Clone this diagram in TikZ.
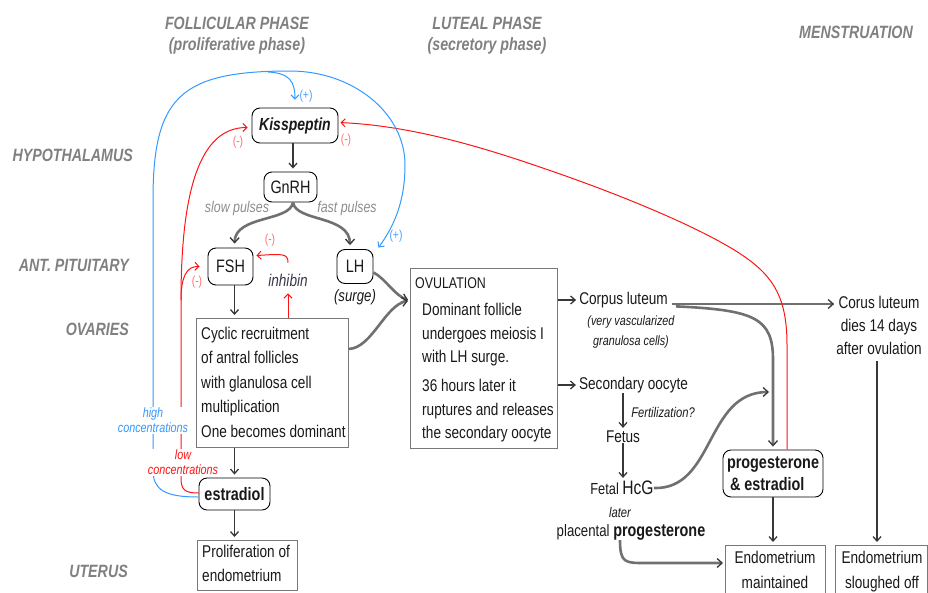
\documentclass[tikz,border=0pt]{standalone}
\usepackage{fontspec}
\setmainfont[FakeStretch=0.8]{Liberation Sans}
\usetikzlibrary{arrows.meta}
\definecolor{hgray}{RGB}{128,128,128}
\definecolor{agray}{RGB}{112,112,112}
\definecolor{dgray}{RGB}{55,55,55}
\definecolor{bgray}{RGB}{120,120,120}
\definecolor{fblue}{RGB}{51,153,255}
\definecolor{fred}{RGB}{255,20,20}
\definecolor{lred}{RGB}{255,110,110}
\definecolor{lblue}{RGB}{70,160,255}
\definecolor{pgray}{RGB}{140,140,140}
\definecolor{itxt}{RGB}{55,55,75}
\begin{document}
\begin{tikzpicture}[x=1pt,y=-1pt,
  every node/.style={inner sep=0pt, text=black!90},
  head/.style={text=hgray, font=\fontsize{17.8}{20}\selectfont\bfseries\itshape},
  body/.style={font=\fontsize{17}{24}\selectfont},
  hbody/.style={font=\fontsize{18}{24}\selectfont},
  rbox/.style={draw=black, line width=0.9pt, rounded corners=8pt},
  sbox/.style={draw=bgray, line width=0.9pt},
  small/.style={font=\fontsize{14}{16}\selectfont\itshape},
  sign/.style={font=\fontsize{13}{14}\selectfont},
  darr/.style={draw=dgray, line width=1.4pt, -{Straight Barb[length=4.5pt,width=8pt,line width=1.3pt]}, shorten >=3pt},
  garr/.style={draw=agray, line width=2.6pt, -{Straight Barb[length=5pt,width=9pt,line width=1.3pt,color=dgray]}, shorten >=2pt},
  rarr/.style={draw=fred, line width=1pt, -{Straight Barb[length=4pt,width=8pt]}},
  barr/.style={draw=fblue, line width=1pt, -{Straight Barb[length=4pt,width=8pt]}},
  rline/.style={draw=fred, line width=1pt},
  bline/.style={draw=fblue, line width=1pt},
  conc/.style={font=\fontsize{13.5}{15}\selectfont\itshape, align=center, fill=white, inner sep=1pt}
]
\useasboundingbox (0,0) rectangle (928,592);

% headings
\node[head] (h1) at (237,23) {FOLLICULAR PHASE};
\node[head] (h2) at (237,46) {(proliferative phase)};
\node[head] (h3) at (487,23) {LUTEAL PHASE};
\node[head] (h4) at (487,46) {(secretory phase)};
\node[head] (h5) at (856,32) {MENSTRUATION};
\node[head,anchor=east] (l1) at (133,155) {HYPOTHALAMUS};
\node[head,anchor=east] (l2) at (129,265) {ANT. PITUITARY};
\node[head,anchor=east] (l3) at (129,329) {OVARIES};
\node[head,anchor=east] (l4) at (128,571) {UTERUS};

% hormone nodes
\node[rbox, minimum width=86, minimum height=35, font=\fontsize{17.5}{20}\selectfont\bfseries\itshape] (kiss) at (295,125.5) {Kisspeptin};
\node[rbox, minimum width=53, minimum height=30, hbody] (gnrh) at (290.5,187) {GnRH};
\node[rbox, minimum width=45, minimum height=37, hbody] (fsh) at (230.5,266.5) {FSH};
\node[rbox, minimum width=36, minimum height=34, hbody] (lh) at (355,266.5) {LH};
\node[font=\fontsize{16.5}{20}\selectfont\itshape] (surge) at (355,297) {(surge)};
\node[font=\fontsize{15.5}{18}\selectfont\itshape, text=pgray] (slow) at (237,208) {slow pulses};
\node[font=\fontsize{15.5}{18}\selectfont\itshape, text=pgray] (fast) at (347,208) {fast pulses};
\node[font=\fontsize{17}{20}\selectfont\itshape, text=itxt] (inh) at (288,280) {inhibin};

% cyclic box
\node[sbox, anchor=north west, minimum width=152, minimum height=129] (cycbox) at (196,318) {};
\node[anchor=north west, align=left, font=\fontsize{17}{24.5}\selectfont] (cyctxt) at (201,326.5) {Cyclic recruitment\\of antral follicles\\with glanulosa cell\\multiplication\\One becomes dominant};

% estradiol and proliferation
\node[rbox, minimum width=71, minimum height=32, font=\fontsize{18}{20}\selectfont\bfseries] (estr) at (234.5,494) {estradiol};
\node[sbox, anchor=north west, minimum width=100, minimum height=50] (prolbox) at (197,540) {};
\node[anchor=north west, align=left, font=\fontsize{17}{24}\selectfont] (proltxt) at (202,544.5) {Proliferation of\\endometrium};

% ovulation
\node[sbox, anchor=north west, minimum width=147, minimum height=180] (ovbox) at (410,268) {};
\node[anchor=north west, align=left, font=\fontsize{17}{23.5}\selectfont] (ovtxt) at (415,277.5) {{\fontsize{15.5}{18}\selectfont OVULATION}\\[3.5pt]\hspace*{7pt}Dominant follicle\\\hspace*{7pt}undergoes meiosis I\\\hspace*{7pt}with LH surge.\\[5.5pt]\hspace*{7pt}36 hours later it\\\hspace*{7pt}ruptures and releases\\\hspace*{7pt}the secondary oocyte};

% luteal column
\node[body] (cl) at (623.5,300) {Corpus luteum};
\node[font=\fontsize{13.5}{20}\selectfont\itshape, align=center] (clsub) at (631,332) {(very vascularized\\granulosa cells)};
\node[body] (so) at (633.5,385) {Secondary oocyte};
\node[small] (fert) at (663,412) {Fertilization?};
\node[body] (fetus) at (623,437) {Fetus};
\node (hcg) at (622,488) {\fontsize{16}{19}\selectfont Fetal \fontsize{19.5}{22}\selectfont HcG};
\node[small] (later) at (620,512) {later};
\node (plac) at (631,532) {\fontsize{16.5}{20}\selectfont placental \bfseries\fontsize{18}{20}\selectfont progesterone};
\node[align=center, anchor=north, font=\fontsize{17}{23}\selectfont] (dies) at (879,295.5) {Corus luteum\\dies 14 days\\after ovulation};
\node[rbox, minimum width=100, minimum height=47, align=left, font=\fontsize{18}{22}\selectfont\bfseries] (pe) at (773,473.5) {progesterone\\\hspace*{3pt}\& estradiol};
\node[sbox, anchor=north west, minimum width=100, minimum height=60] (embox) at (725,545) {};
\node[align=center, font=\fontsize{17}{25}\selectfont, anchor=north] (emtxt) at (775,550.5) {Endometrium\\maintained};
\node[sbox, anchor=north west, minimum width=92, minimum height=60] (slbox) at (835,545) {};
\node[align=center, font=\fontsize{17}{25}\selectfont, anchor=north] (sltxt) at (882,550.5) {Endometrium\\sloughed off};

% coordinates
\coordinate (ovin) at ([yshift=58]ovbox.west);
\coordinate (pj) at (771,392);
\coordinate (bj) at (268,72);
\coordinate (rj) at (181,300);

% black / gray arrows
\draw[darr] ([xshift=-2]kiss.south) -- ([xshift=2.5]gnrh.north);
\draw[garr, shorten >=4pt] ([xshift=2.5]gnrh.south) .. controls (290,222) and (235,215) .. ([xshift=4]fsh.north);
\draw[garr, shorten >=4pt] ([xshift=2.5]gnrh.south) .. controls (296,222) and (350,215) .. ([xshift=-5]lh.north);
\draw[darr] ([xshift=4]fsh.south) -- ([xshift=4]fsh.south |- cycbox.north);
\draw[darr] (cycbox.south -| estr) -- (estr.north);
\draw[darr] (estr.south) -- (estr.south |- prolbox.north);
\draw[garr] ([yshift=-6]lh.east) .. controls (385,278) and (395,296) .. (ovin);
\draw[garr] ([yshift=34]cycbox.east) .. controls (372,348) and (385,305) .. (ovin);
\draw[darr] (ovbox.east |- cl) -- (cl.west);
\draw[darr] (ovbox.east |- so) -- (so.west);
\draw[darr] (so.south -| fetus) -- (fetus.north);
\draw[darr] (fetus.south) -- (fetus.south |- hcg.north);
\draw[garr] (hcg.east) .. controls (715,490) and (705,392) .. (pj);
\draw[garr] ([xshift=-11]plac.south) .. controls (620,563) and (625,563) .. (645,563) -- (embox.west |- 0,563);
\draw[garr, shorten <=4pt] ([yshift=-4]cl.east) -- ([yshift=-4]cl.east -| dies.west);
\draw[garr, shorten >=3pt, shorten <=8pt] ([yshift=-6]cl.east) .. controls (755,310) and (773,318) .. (773,360) -- (pe.north);
\draw[darr] (pe.south) -- (pe.south |- embox.north);
\draw[darr, shorten <=7pt] ([xshift=-2]dies.south) -- ([xshift=-2]dies.south |- slbox.north);

% red feedback
\draw[rarr, shorten >=2pt] ([xshift=14]pe.north) -- (787,345) .. controls (787,300) and (775,278) .. (745,257) .. controls (705,229) and (620,195) .. (560,174) .. controls (500,153) and (420,126) .. ([yshift=3]kiss.east);
\draw[rline] ([yshift=1]estr.west) .. controls (185,493) and (181,490) .. (181,478) -- (rj);
\draw[rarr] (rj) .. controls (181,278) and (186,266) .. ([xshift=-8]fsh.west);
\draw[rarr] (rj) .. controls (181,190) and (200,127.5) .. ([xshift=-4,yshift=-2]kiss.west);
\draw[rarr, shorten >=2pt] (cycbox.north -| inh) -- ([yshift=-5]inh.south);
\draw[rarr] ([yshift=11]inh.north) .. controls (288,253) and (282,254) .. ([xshift=3,yshift=11]fsh.east);

% blue feedback
\draw[barr] ([yshift=-3]estr.west) .. controls (165,497) and (153,490) .. (153,470) -- (153,200) .. controls (153,97) and (180,71) .. (290,71) .. controls (353,71) and (405,113) .. (405,165) .. controls (405,200) and (395,225) .. ([xshift=5,yshift=1.5]lh.north east);
\draw[barr] (bj) .. controls (290,73) and (295,82) .. ([yshift=8]kiss.north);

% signs
\node[sign, text=lred] (m1) at (270,240) {(-)};
\node[sign, text=lred] (m2) at (197,282) {(-)};
\node[sign, text=lred] (m3) at (238,142) {(-)};
\node[sign, text=lred] (m4) at (346,140) {(-)};
\node[sign, text=lblue] (p1) at (306,96) {(+)};
\node[sign, text=lblue] (p2) at (396,236) {(+)};

% concentration labels
\node[conc, text=fblue] (hc) at (153,420.5) {high\\concentrations};
\node[conc, text=fred] (lc) at (183,462.5) {low\\concentrations};
\end{tikzpicture}
\end{document}
